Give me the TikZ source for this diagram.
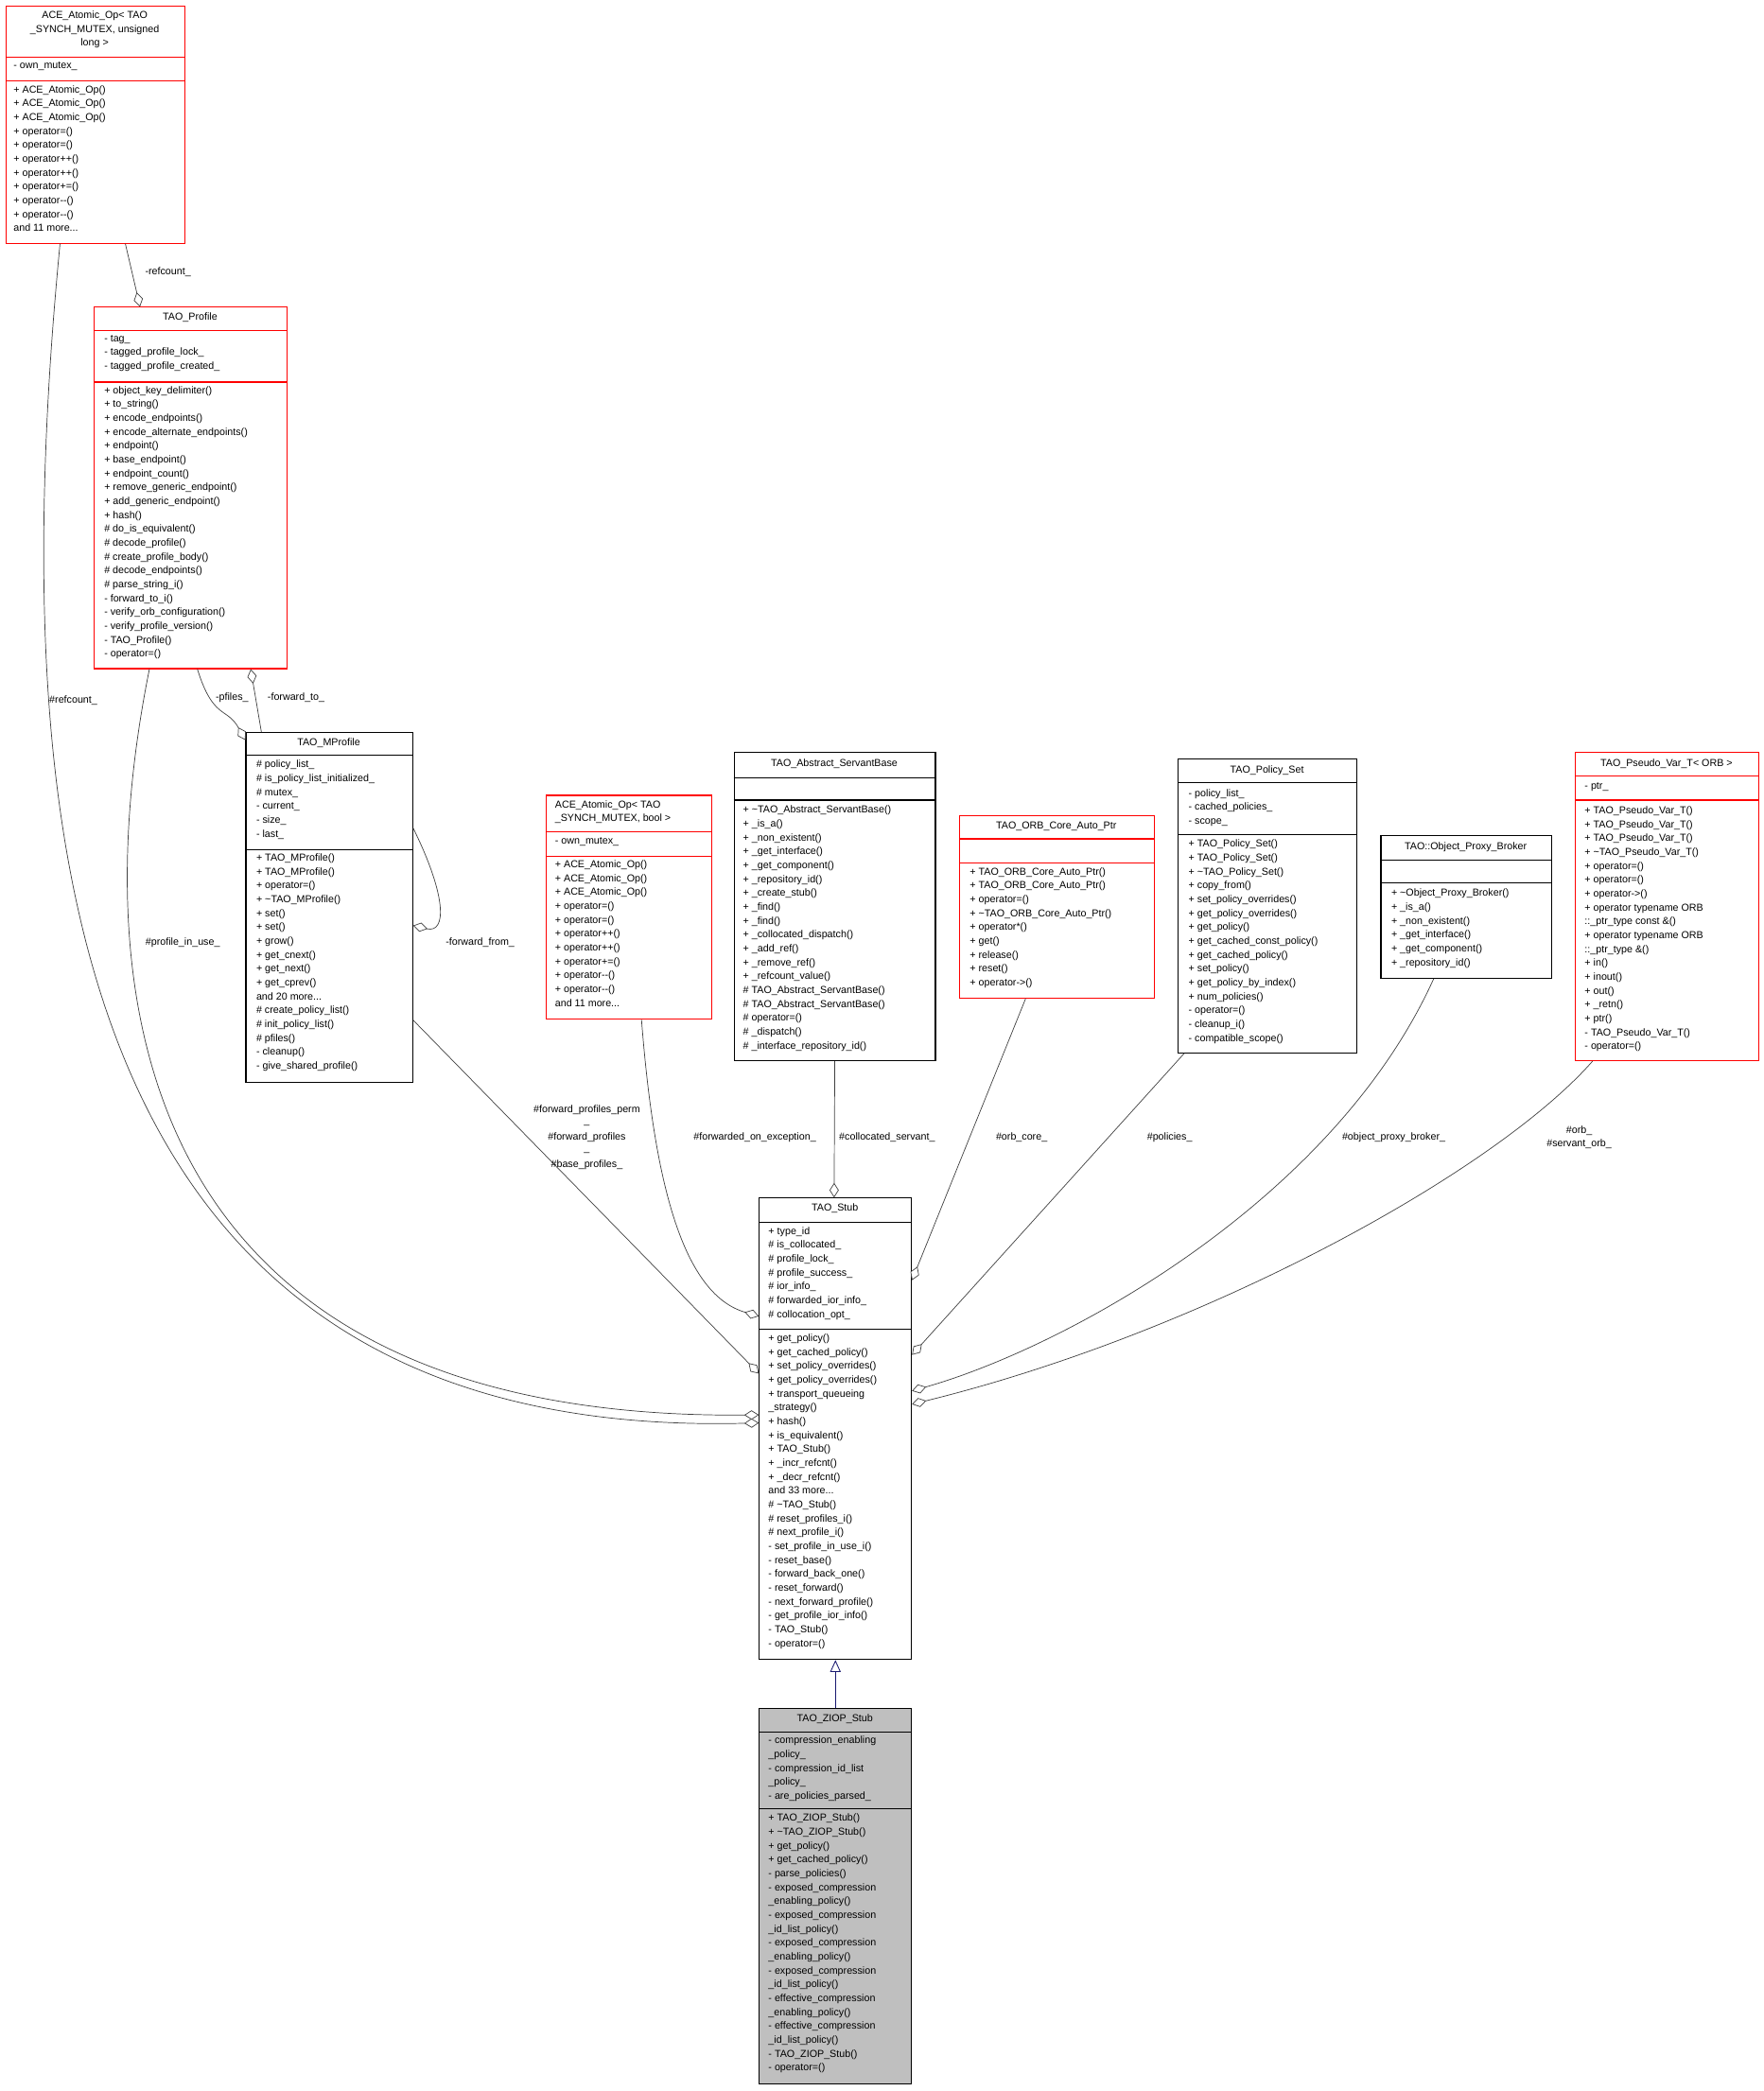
\documentclass[tikz,border=0pt]{standalone}
\usepackage{fontspec}
\setmainfont{Liberation Sans}
\usetikzlibrary{arrows.meta,positioning}
\definecolor{edgegray}{HTML}{404040}
\definecolor{ziopgray}{HTML}{BFBFBF}
\definecolor{inhnavy}{HTML}{191970}

\begin{document}
\begin{tikzpicture}[x=1pt, y=-1pt, font=\fontsize{7.6}{10.4}\selectfont]
    % Define styles
    \tikzstyle{redbox} = [draw=red, line width=0.8pt, inner sep=0, anchor=north west]
    \tikzstyle{blackbox} = [draw=black, line width=0.8pt, inner sep=0, anchor=north west]
    \tikzstyle{title} = [inner sep=0, align=center]
    \tikzstyle{members} = [inner sep=0, align=left, anchor=north west]
    \tikzstyle{lbl} = [inner sep=1pt, align=center]
    \tikzstyle{assoc} = [draw=edgegray, line width=0.5pt, -{Diamond[open, fill=white, length=11pt, width=7pt]}]
    \tikzstyle{inherit} = [draw=inhnavy, line width=0.6pt, -{Triangle[open, fill=white, length=9pt, width=8pt]}]

    \useasboundingbox (0,0) rectangle (1322,1568);

    % ACE_Atomic_Op< TAO_SYNCH_MUTEX, unsigned long >
    \node[redbox, minimum width=134, minimum height=178] (aul) at (4,4) {};
    \draw[red, line width=0.8pt] (4,42.8) -- (138,42.8) (4,60.4) -- (138,60.4);
    \node[title] (aul_t) at (71,22.3) {ACE\_Atomic\_Op< TAO\\\_SYNCH\_MUTEX, unsigned\\long >};
    \node[members] (aul_a) at (10,46) {- own\_mutex\_};
    \node[members] (aul_m) at (10,64) {+ ACE\_Atomic\_Op()\\+ ACE\_Atomic\_Op()\\+ ACE\_Atomic\_Op()\\+ operator=()\\+ operator=()\\+ operator++()\\+ operator++()\\+ operator+=()\\+ operator-{}-()\\+ operator-{}-()\\and 11 more...};

    % TAO_Profile
    \node[redbox, minimum width=145, minimum height=271] (prof) at (70,230) {};
    \draw[red, line width=0.8pt] (70,247.7) -- (215,247.7) (70,286.5) -- (215,286.5);
    \node[title] (prof_t) at (142.5,238) {TAO\_Profile};
    \node[members] (prof_a) at (78,251) {- tag\_\\- tagged\_profile\_lock\_\\- tagged\_profile\_created\_};
    \node[members] (prof_m) at (78,289.5) {+ object\_key\_delimiter()\\+ to\_string()\\+ encode\_endpoints()\\+ encode\_alternate\_endpoints()\\+ endpoint()\\+ base\_endpoint()\\+ endpoint\_count()\\+ remove\_generic\_endpoint()\\+ add\_generic\_endpoint()\\+ hash()\\\# do\_is\_equivalent()\\\# decode\_profile()\\\# create\_profile\_body()\\\# decode\_endpoints()\\\# parse\_string\_i()\\- forward\_to\_i()\\- verify\_orb\_configuration()\\- verify\_profile\_version()\\- TAO\_Profile()\\- operator=()};

    % TAO_MProfile
    \node[blackbox, minimum width=125, minimum height=262] (mprof) at (184,549) {};
    \draw[line width=0.8pt] (184,566) -- (309,566) (184,637) -- (309,637);
    \node[title] (mprof_t) at (246.5,557) {TAO\_MProfile};
    \node[members] (mprof_a) at (192,570) {\# policy\_list\_\\\# is\_policy\_list\_initialized\_\\\# mutex\_\\- current\_\\- size\_\\- last\_};
    \node[members] (mprof_m) at (192,640) {+ TAO\_MProfile()\\+ TAO\_MProfile()\\+ operator=()\\+ \textasciitilde TAO\_MProfile()\\+ set()\\+ set()\\+ grow()\\+ get\_cnext()\\+ get\_next()\\+ get\_cprev()\\and 20 more...\\\# create\_policy\_list()\\\# init\_policy\_list()\\\# pfiles()\\- cleanup()\\- give\_shared\_profile()};

    % ACE_Atomic_Op< TAO_SYNCH_MUTEX, bool >
    \node[redbox, minimum width=124, minimum height=168] (abool) at (409,596) {};
    \draw[red, line width=0.8pt] (409,624) -- (533,624) (409,642) -- (533,642);
    \node[title, align=left, anchor=west] (abool_t) at (416,609) {ACE\_Atomic\_Op< TAO\\\_SYNCH\_MUTEX, bool >};
    \node[members] (abool_a) at (416,628) {- own\_mutex\_};
    \node[members] (abool_m) at (416,645) {+ ACE\_Atomic\_Op()\\+ ACE\_Atomic\_Op()\\+ ACE\_Atomic\_Op()\\+ operator=()\\+ operator=()\\+ operator++()\\+ operator++()\\+ operator+=()\\+ operator-{}-()\\+ operator-{}-()\\and 11 more...};

    % TAO_Abstract_ServantBase
    \node[blackbox, minimum width=151, minimum height=231] (asb) at (550,564) {};
    \draw[line width=0.8pt] (550,583) -- (701,583) (550,600) -- (701,600);
    \node[title] (asb_t) at (625.5,573) {TAO\_Abstract\_ServantBase};
    \node[members] (asb_m) at (557,604) {+ \textasciitilde TAO\_Abstract\_ServantBase()\\+ \_is\_a()\\+ \_non\_existent()\\+ \_get\_interface()\\+ \_get\_component()\\+ \_repository\_id()\\+ \_create\_stub()\\+ \_find()\\+ \_find()\\+ \_collocated\_dispatch()\\+ \_add\_ref()\\+ \_remove\_ref()\\+ \_refcount\_value()\\\# TAO\_Abstract\_ServantBase()\\\# TAO\_Abstract\_ServantBase()\\\# operator=()\\\# \_dispatch()\\\# \_interface\_repository\_id()};

    % TAO_ORB_Core_Auto_Ptr
    \node[redbox, minimum width=146, minimum height=137] (ocap) at (719,611) {};
    \draw[red, line width=0.8pt] (719,629) -- (865,629) (719,647) -- (865,647);
    \node[title] (ocap_t) at (792,620) {TAO\_ORB\_Core\_Auto\_Ptr};
    \node[members] (ocap_m) at (727,650.5) {+ TAO\_ORB\_Core\_Auto\_Ptr()\\+ TAO\_ORB\_Core\_Auto\_Ptr()\\+ operator=()\\+ \textasciitilde TAO\_ORB\_Core\_Auto\_Ptr()\\+ operator*()\\+ get()\\+ release()\\+ reset()\\+ operator->()};

    % TAO_Policy_Set
    \node[blackbox, minimum width=134, minimum height=220] (pset) at (883,569) {};
    \draw[line width=0.8pt] (883,587) -- (1017,587) (883,626) -- (1017,626);
    \node[title] (pset_t) at (950,578) {TAO\_Policy\_Set};
    \node[members] (pset_a) at (891,591.5) {- policy\_list\_\\- cached\_policies\_\\- scope\_};
    \node[members] (pset_m) at (891,629.5) {+ TAO\_Policy\_Set()\\+ TAO\_Policy\_Set()\\+ \textasciitilde TAO\_Policy\_Set()\\+ copy\_from()\\+ set\_policy\_overrides()\\+ get\_policy\_overrides()\\+ get\_policy()\\+ get\_cached\_const\_policy()\\+ get\_cached\_policy()\\+ set\_policy()\\+ get\_policy\_by\_index()\\+ num\_policies()\\- operator=()\\- cleanup\_i()\\- compatible\_scope()};

    % TAO::Object_Proxy_Broker
    \node[blackbox, minimum width=128, minimum height=107] (opb) at (1035,626) {};
    \draw[line width=0.8pt] (1035,645) -- (1163,645) (1035,662) -- (1163,662);
    \node[title] (opb_t) at (1099,635) {TAO::Object\_Proxy\_Broker};
    \node[members] (opb_m) at (1043,666.5) {+ \textasciitilde Object\_Proxy\_Broker()\\+ \_is\_a()\\+ \_non\_existent()\\+ \_get\_interface()\\+ \_get\_component()\\+ \_repository\_id()};

    % TAO_Pseudo_Var_T< ORB >
    \node[redbox, minimum width=137, minimum height=231] (pvar) at (1181,564) {};
    \draw[red, line width=0.8pt] (1181,582) -- (1318,582) (1181,600) -- (1318,600);
    \node[title] (pvar_t) at (1249.5,573) {TAO\_Pseudo\_Var\_T< ORB >};
    \node[members] (pvar_a) at (1188,586.5) {- ptr\_};
    \node[members] (pvar_m) at (1188,604.5) {+ TAO\_Pseudo\_Var\_T()\\+ TAO\_Pseudo\_Var\_T()\\+ TAO\_Pseudo\_Var\_T()\\+ \textasciitilde TAO\_Pseudo\_Var\_T()\\+ operator=()\\+ operator=()\\+ operator->()\\+ operator typename ORB\\::\_ptr\_type const \&()\\+ operator typename ORB\\::\_ptr\_type \&()\\+ in()\\+ inout()\\+ out()\\+ \_retn()\\+ ptr()\\- TAO\_Pseudo\_Var\_T()\\- operator=()};

    % TAO_Stub
    \node[blackbox, minimum width=114, minimum height=346] (stub) at (569,898) {};
    \draw[line width=0.8pt] (569,916.3) -- (683,916.3) (569,996.5) -- (683,996.5);
    \node[title] (stub_t) at (626,906) {TAO\_Stub};
    \node[members] (stub_a) at (576,920) {+ type\_id\\\# is\_collocated\_\\\# profile\_lock\_\\\# profile\_success\_\\\# ior\_info\_\\\# forwarded\_ior\_info\_\\\# collocation\_opt\_};
    \node[members] (stub_m) at (576,1000.2) {+ get\_policy()\\+ get\_cached\_policy()\\+ set\_policy\_overrides()\\+ get\_policy\_overrides()\\+ transport\_queueing\\\_strategy()\\+ hash()\\+ is\_equivalent()\\+ TAO\_Stub()\\+ \_incr\_refcnt()\\+ \_decr\_refcnt()\\and 33 more...\\\# \textasciitilde TAO\_Stub()\\\# reset\_profiles\_i()\\\# next\_profile\_i()\\- set\_profile\_in\_use\_i()\\- reset\_base()\\- forward\_back\_one()\\- reset\_forward()\\- next\_forward\_profile()\\- get\_profile\_ior\_info()\\- TAO\_Stub()\\- operator=()};

    % TAO_ZIOP_Stub
    \node[blackbox, fill=ziopgray, minimum width=114, minimum height=281] (ziop) at (569,1281) {};
    \draw[line width=0.8pt] (569,1298.8) -- (683,1298.8) (569,1356) -- (683,1356);
    \node[title] (ziop_t) at (626,1289) {TAO\_ZIOP\_Stub};
    \node[members] (ziop_a) at (576,1302) {- compression\_enabling\\\_policy\_\\- compression\_id\_list\\\_policy\_\\- are\_policies\_parsed\_};
    \node[members] (ziop_m) at (576,1360) {+ TAO\_ZIOP\_Stub()\\+ \textasciitilde TAO\_ZIOP\_Stub()\\+ get\_policy()\\+ get\_cached\_policy()\\- parse\_policies()\\- exposed\_compression\\\_enabling\_policy()\\- exposed\_compression\\\_id\_list\_policy()\\- exposed\_compression\\\_enabling\_policy()\\- exposed\_compression\\\_id\_list\_policy()\\- effective\_compression\\\_enabling\_policy()\\- effective\_compression\\\_id\_list\_policy()\\- TAO\_ZIOP\_Stub()\\- operator=()};

    % Connectors
    \draw[assoc] ([xshift=90]aul.south west) -- ([xshift=35]prof.north west);
    \node[lbl] at (126,204) {-refcount\_};
    \draw[assoc] ([xshift=41]aul.south west) .. controls (0,650) and (60,1080) .. ([yshift=-169]stub.north west);
    \node[lbl] at (55,525) {\#refcount\_};
    \draw[assoc] ([xshift=42]prof.south west) .. controls (60,760) and (110,1065) .. ([yshift=-163]stub.north west);
    \node[lbl] at (137,707) {\#profile\_in\_use\_};
    \draw[assoc] ([xshift=78]prof.south west) .. controls (160,540) and (170,530) .. ([yshift=-6]mprof.north west);
    \node[lbl] at (174,523) {-pfiles\_};
    \draw[assoc] ([xshift=12]mprof.north west) -- ([xshift=118]prof.south west);
    \node[lbl] at (222,523) {-forward\_to\_};
    \draw[assoc] ([yshift=-72]mprof.north east) .. controls (335,672) and (335,700) .. ([yshift=-145]mprof.north east);
    \node[lbl] at (360,707) {-forward\_from\_};
    \draw[assoc] ([yshift=-216]mprof.north east) -- ([yshift=-132]stub.north west);
    \node[lbl, align=center] at (440,853) {\#forward\_profiles\_perm\\[-2pt]\_\\[2pt]\#forward\_profiles\\[-2pt]\_\\[2pt]\#base\_profiles\_};
    \draw[assoc] ([xshift=72]abool.south west) .. controls (490,880) and (510,970) .. ([yshift=-89]stub.north west);
    \node[lbl] at (566,853) {\#forwarded\_on\_exception\_};
    \draw[assoc] (asb.south) -- ([xshift=-1]stub.north);
    \node[lbl, anchor=west] at (628,853) {\#collocated\_servant\_};
    \draw[assoc] ([xshift=50]ocap.south west) -- ([yshift=-62]stub.north east);
    \node[lbl] at (766,853) {\#orb\_core\_};
    \draw[assoc] ([xshift=5]pset.south west) -- ([yshift=-118]stub.north east);
    \node[lbl] at (877,853) {\#policies\_};
    \draw[assoc] ([xshift=40]opb.south west) .. controls (1000,900) and (800,1010) .. ([yshift=-145]stub.north east);
    \node[lbl] at (1045,853) {\#object\_proxy\_broker\_};
    \draw[assoc] ([xshift=13]pvar.south west) .. controls (1120,880) and (900,1000) .. ([yshift=-155]stub.north east);
    \node[lbl] at (1184,853) {\#orb\_\\\#servant\_orb\_};
    \draw[inherit] (ziop.north) -- (stub.south);
\end{tikzpicture}
\end{document}
